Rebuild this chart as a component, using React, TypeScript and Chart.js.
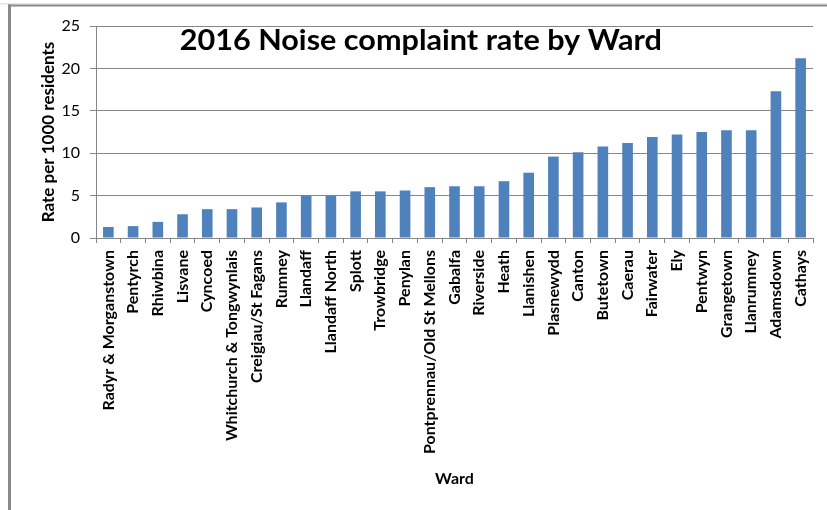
import React, { useEffect, useRef } from "react";
import { Chart, registerables } from "chart.js";

Chart.register(...registerables);

const categories = [
  "Radyr & Morganstown", "Pentyrch", "Rhiwbina", "Lisvane", "Cyncoed",
  "Whitchurch & Tongwynlais", "Creigiau/St Fagans", "Rumney", "Llandaff", "Llandaff North",
  "Splott", "Trowbridge", "Penylan", "Pontprennau/Old St Mellons", "Gabalfa",
  "Riverside", "Heath", "Llanishen", "Plasnewydd", "Canton",
  "Butetown", "Caerau", "Fairwater", "Ely", "Pentwyn",
  "Grangetown", "Llanrumney", "Adamsdown", "Cathays",
];
const rates = [
  1.3, 1.4, 1.9, 2.8, 3.4, 3.4, 3.6, 4.2, 5.0, 5.0,
  5.5, 5.5, 5.6, 6.0, 6.1, 6.1, 6.7, 7.7, 9.6, 10.1,
  10.8, 11.2, 11.9, 12.2, 12.5, 12.7, 12.7, 17.3, 21.2,
];
const yMin = 0;
const yMax = 25;
const yStep = 5;
const chartTitle = "2016 Noise complaint rate by Ward";
const yTitle = "Rate per 1000 residents";
const xTitle = "Ward";

const FONT = "Lato, 'Open Sans', sans-serif";
const GRID = "#868686";

const framePlugin = {
  id: "frameAndTitle",
  beforeDraw(chart: any) {
    const ctx = chart.ctx;
    ctx.save();
    ctx.fillStyle = "#ffffff";
    ctx.fillRect(0, 0, chart.width, chart.height);
    ctx.fillStyle = "#e4e4e4";
    ctx.fillRect(0, 3, chart.width, 1.5);
    ctx.fillStyle = "#8a8a8a";
    ctx.fillRect(8, 4.5, chart.width, 2);
    ctx.fillRect(8, 4.5, 3, chart.height);
    ctx.restore();
  },
  afterDraw(chart: any) {
    const ctx = chart.ctx;
    const a = chart.chartArea;
    ctx.save();
    ctx.fillStyle = "#000000";
    ctx.font = `bold 28px ${FONT}`;
    ctx.textAlign = "center";
    ctx.textBaseline = "alphabetic";
    const cx = a.left + (a.right - a.left) * 0.453;
    const w = ctx.measureText(chartTitle).width;
    const target = 482;
    ctx.translate(cx, a.top + 24);
    ctx.scale(target / w, 1);
    ctx.fillText(chartTitle, 0, 0);
    ctx.restore();
  },
};

export default function App() {
  const ref = useRef<HTMLCanvasElement | null>(null);
  useEffect(() => {
    if (!ref.current) return;
    const chart = new Chart(ref.current, {
      type: "bar",
      data: {
        labels: categories,
        datasets: [
          {
            data: rates,
            backgroundColor: "#4F81BD",
            borderWidth: 0,
            barPercentage: 0.43,
            categoryPercentage: 1,
          },
        ],
      },
      options: {
        responsive: false,
        animation: false,
        layout: { padding: { left: 0, right: 9, top: 26, bottom: 0 } },
        plugins: {
          legend: { display: false },
          tooltip: { enabled: false },
          title: { display: false },
        },
        scales: {
          x: {
            grid: {
              drawOnChartArea: false,
              drawTicks: true,
              tickLength: 5,
              color: GRID,
              offset: true,
            },
            border: { color: GRID, width: 1 },
            ticks: {
              autoSkip: false,
              maxRotation: 90,
              minRotation: 90,
              padding: 7,
              color: "#000000",
              font: { family: FONT, size: 16, weight: "bold" },
            },
            title: {
              display: true,
              text: xTitle,
              color: "#000000",
              font: { family: FONT, size: 16, weight: "bold" },
              padding: { top: 0, bottom: 22 },
            },
            afterFit(scale: any) {
              scale.height = 272;
            },
          },
          y: {
            min: yMin,
            max: yMax,
            ticks: {
              stepSize: yStep,
              padding: 10,
              color: "#000000",
              font: { family: FONT, size: 16 },
            },
            grid: { color: GRID, tickLength: 6, lineWidth: 1 },
            border: { color: GRID, width: 1 },
            title: {
              display: true,
              text: yTitle,
              color: "#000000",
              font: { family: FONT, size: 17, weight: "bold" },
              padding: { top: 38, bottom: 0 },
            },
            afterFit(scale: any) {
              scale.width = 96;
            },
          },
        },
      },
      plugins: [framePlugin],
    });
    return () => chart.destroy();
  }, []);
  return (
    <div style={{ position: "fixed", left: 0, top: 0, width: 827, height: 510, background: "#fff" }}>
      <canvas ref={ref} width={827} height={510} style={{ display: "block" }} />
    </div>
  );
}
